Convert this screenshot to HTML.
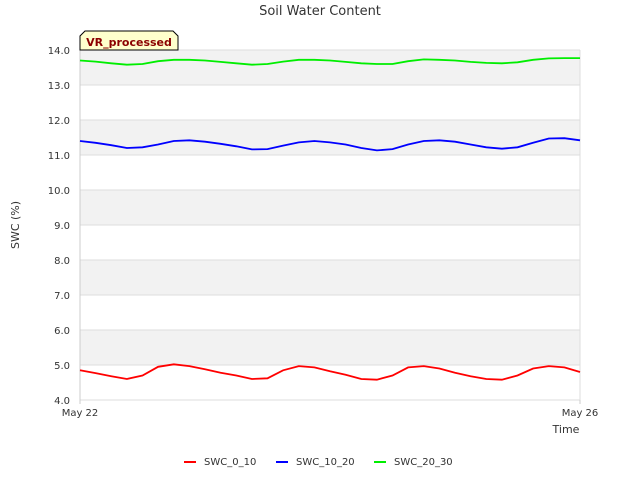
<!DOCTYPE html>
<html><head><meta charset="utf-8"><style>
body{margin:0;background:#fff;font-family:"DejaVu Sans","Liberation Sans",sans-serif}
</style></head><body>
<svg id="chart" width="640" height="480" xmlns="http://www.w3.org/2000/svg">
<rect width="640" height="480" fill="#fff"/>
<text x="320" y="15" text-anchor="middle" font-size="13" fill="#333">Soil Water Content</text>
<g id="bands"></g><g id="grid"></g><g id="yticks"></g><g id="xticks"></g><g id="series"></g>
<text x="19" y="225" transform="rotate(-90 19 225)" text-anchor="middle" font-size="11" fill="#333">SWC (%)</text>
<text x="566" y="433" text-anchor="middle" font-size="11" fill="#333">Time</text>
<g>
<path d="M80,50 L80,36 L85,31 L173,31 L178,36 L178,50 Z" fill="#ffffcc" stroke="#000" stroke-width="1"/>
<text x="129" y="46" text-anchor="middle" font-size="11" font-weight="bold" fill="#8b0000">VR_processed</text>
</g>
<g id="legend"></g>
</svg>
<script>
const NS='http://www.w3.org/2000/svg';
const yTicks=[4,5,6,7,8,9,10,11,12,13,14];
const xLabels=['May 22','May 26'];
const seriesNames=['SWC_0_10','SWC_10_20','SWC_20_30'];
const seriesColors=['#ff0000','#0000ff','#00ee00'];
const swc0=[4.85,4.77,4.68,4.6,4.7,4.95,5.02,4.97,4.88,4.78,4.7,4.6,4.62,4.85,4.97,4.93,4.82,4.72,4.6,4.58,4.7,4.93,4.97,4.9,4.78,4.68,4.6,4.58,4.7,4.9,4.97,4.93,4.8];
const swc1=[11.4,11.35,11.28,11.2,11.22,11.3,11.4,11.42,11.38,11.32,11.25,11.16,11.17,11.27,11.36,11.4,11.36,11.3,11.2,11.13,11.17,11.3,11.4,11.42,11.38,11.3,11.22,11.18,11.22,11.35,11.47,11.48,11.42];
const swc2=[13.7,13.67,13.62,13.58,13.6,13.68,13.72,13.72,13.7,13.66,13.62,13.58,13.6,13.67,13.72,13.72,13.7,13.66,13.62,13.6,13.6,13.68,13.73,13.72,13.7,13.66,13.63,13.62,13.65,13.72,13.76,13.77,13.77];
const allSeries=[swc0,swc1,swc2];
const X0=80,X1=580,Y0=400,Y1=50,VMIN=4,VMAX=14;
const ys=v=>Y0-(v-VMIN)/(VMAX-VMIN)*(Y0-Y1);
const xs=(i,n)=>X0+i/(n-1)*(X1-X0);
function mk(t,a,p){const e=document.createElementNS(NS,t);for(const k in a)e.setAttribute(k,a[k]);p.appendChild(e);return e;}
const bands=document.getElementById('bands');
for(let i=0;i<yTicks.length-1;i++){if(i%2===1){const r=mk('rect',{x:X0,y:ys(yTicks[i+1]),width:X1-X0,height:ys(yTicks[i])-ys(yTicks[i+1]),fill:'#f2f2f2'},bands);

}}
const grid=document.getElementById('grid'),yt=document.getElementById('yticks');
yTicks.forEach(v=>{const l=mk('line',{x1:X0,x2:X1,y1:ys(v),y2:ys(v),stroke:'#dddddd'},grid);


const t=mk('text',{x:X0-10,y:ys(v)+4,'text-anchor':'end','font-size':'10',fill:'#333'},yt);t.textContent=v.toFixed(1);

});
mk('line',{x1:X0,x2:X0,y1:Y1,y2:Y0,stroke:'#ccc'},grid);
mk('line',{x1:X1,x2:X1,y1:Y1,y2:Y0,stroke:'#ddd'},grid);
const xt=document.getElementById('xticks');
xLabels.forEach((s,i)=>{const x=xs(i,xLabels.length);mk('line',{x1:x,x2:x,y1:Y0,y2:Y0+4,stroke:'#ccc'},xt);
const t=mk('text',{x:x,y:Y0+16,'text-anchor':'middle','font-size':'10',fill:'#333'},xt);t.textContent=s;

});
const sg=document.getElementById('series');
allSeries.forEach((d,k)=>{const pts=d.map((v,i)=>xs(i,d.length).toFixed(1)+','+ys(v).toFixed(1)).join(' ');
const p=mk('polyline',{points:pts,fill:'none',stroke:seriesColors[k],'stroke-width':'1.8'},sg);

});
const lg=document.getElementById('legend');const lx=[184,276,374];
seriesNames.forEach((n,k)=>{const g=mk('g',{},lg);


mk('line',{x1:lx[k],x2:lx[k]+12,y1:462,y2:462,stroke:seriesColors[k],'stroke-width':'2'},g);
const t=mk('text',{x:lx[k]+20,y:465,'font-size':'10',fill:'#333'},g);t.textContent=n;});
</script>
</body></html>
